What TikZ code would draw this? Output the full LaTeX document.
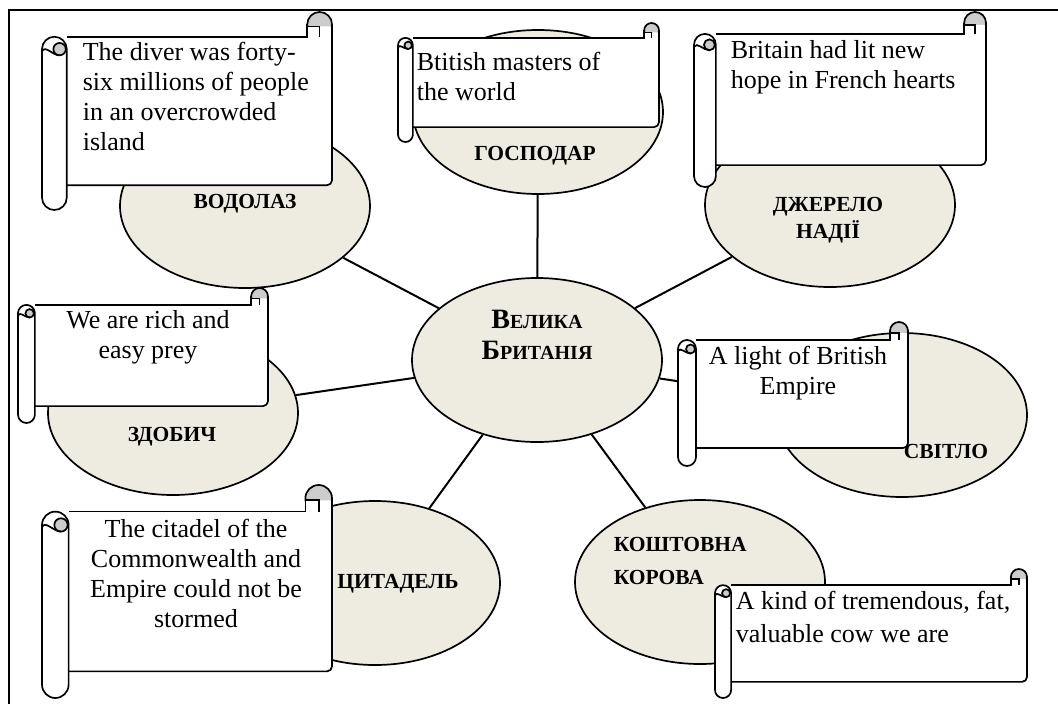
\documentclass[tikz,border=0pt]{standalone}
\usepackage{fontspec}
\setmainfont{Liberation Serif}
\usetikzlibrary{shapes.geometric}
\definecolor{ovalfill}{HTML}{EEECE1}
\definecolor{curl}{HTML}{CCCCCC}
\tikzset{
  oval/.style={ellipse, draw, fill=ovalfill, minimum width=250, minimum height=164, inner sep=0},
  link/.style={line width=2pt},
  note/.style={inner sep=0, font=\fontsize{26}{30}\selectfont},
  word/.style={inner sep=0, font=\fontsize{21.5}{27}\selectfont\bfseries}
}
\newcommand{\scrollshape}[4]{%
\begin{scope}[shift={(#1,#2)}]
\pgfmathsetmacro{\scrC}{#4/8}
\pgfmathsetmacro{\scrH}{#4/16}
\pgfmathsetmacro{\scrQ}{#4/32}
\filldraw[fill=curl] (#3-\scrH,\scrH) circle[radius=\scrH];
\fill[white] (\scrC,\scrC) -- (#3-\scrC,\scrC) -- (#3-\scrC,\scrH+2) -- (#3,\scrH+2) -- (#3,#4-\scrC) -- (\scrC,#4-\scrC) -- cycle;
\draw (#3-\scrC,\scrH) -- (#3-\scrC,\scrC) -- (\scrC,\scrC);
\draw[rounded corners=5pt] (#3,\scrH) -- (#3,#4-\scrC) -- (\scrC,#4-\scrC);
\draw (#3-\scrC,\scrH+2) -- (#3-\scrH,\scrH+2) -- (#3-\scrH,\scrC);
\filldraw[fill=white, rounded corners=\scrH pt] (0,\scrC) rectangle (\scrC,#4);
\filldraw[fill=curl] (\scrC-\scrQ-1,\scrC+\scrH) circle[radius=\scrQ];
\draw (\scrC-\scrQ-1,\scrC+\scrH+\scrQ) to[out=180,in=60] (0,\scrC+\scrH+2);
\end{scope}}
\begin{document}
\begin{tikzpicture}[x=1pt, y=-1pt, line width=1.7pt]
\useasboundingbox (0,0) rectangle (1058,704);
\draw[line width=2pt] (9,704) -- (9,10) -- (1058,10);

\node[oval] (gb) at (537,360){};
\node[oval] (vodolaz) at (245,206){};
\node[oval] (gospodar) at (538,112){};
\node[oval] (dzherelo) at (830,205){};
\node[oval] (zdobych) at (173,413){};
\node[oval] (svitlo) at (902,415){};
\node[oval] (tsytadel) at (375,583){};
\node[oval] (koshtovna) at (700,582){};
\draw[link] (gb) -- (vodolaz);
\draw[link] (gb) -- (gospodar);
\draw[link] (gb) -- (dzherelo);
\draw[link] (gb) -- (zdobych);
\draw[link] (gb) -- (svitlo);
\draw[link] (gb) -- (tsytadel);
\draw[link] (gb) -- (koshtovna);

\scrollshape{42}{12}{290}{198}
\scrollshape{398}{23}{261}{119}
\scrollshape{694}{12}{292}{175}
\scrollshape{18}{288}{250}{135}
\scrollshape{678}{322}{230}{144}
\scrollshape{42}{485}{290}{213}
\scrollshape{715}{569}{312}{129}

\node[note, anchor=north west, align=left] (diver) at (82,41) {The diver was forty-\\six millions of people\\in an overcrowded\\island};
\node[note, anchor=north west, align=left] (masters) at (416,51) {Btitish masters of\\the world};
\node[note, anchor=north west, align=left] (hope) at (730,40) {Britain had lit new\\hope in French hearts};
\node[note, anchor=north, align=center] (prey) at (148,310) {We are rich and\\easy prey};
\node[note, anchor=north, align=center] (light) at (798,345) {A light of British\\Empire};
\node[note, anchor=north, align=center] (citadel) at (196,518) {The citadel of the\\Commonwealth and\\Empire could not be\\stormed};
\node[note, anchor=north west, align=left, font=\fontsize{26}{33}\selectfont] (cow) at (735,590) {A kind of tremendous, fat,\\valuable cow we are};

\node[word, anchor=north, align=center, font=\fontsize{20}{31}\selectfont\bfseries] (gbt) at (537,309) {{\fontsize{28}{31}\selectfont В}ЕЛИКА\\{\fontsize{28}{31}\selectfont Б}РИТАНІЯ};
\node[word, anchor=north] (vodolazt) at (245,193) {ВОДОЛАЗ};
\node[word, anchor=north] (gospodart) at (535,145) {ГОСПОДАР};
\node[word, anchor=north, align=center] (dzherelot) at (828,196) {ДЖЕРЕЛО\\НАДІЇ};
\node[word, anchor=north] (zdobycht) at (172,426) {ЗДОБИЧ};
\node[word, anchor=north] (svitlot) at (946,443) {СВІТЛО};
\node[word, anchor=north] (tsytadelt) at (398,573) {ЦИТАДЕЛЬ};
\node[word, anchor=north west, align=left, font=\fontsize{21.5}{33}\selectfont\bfseries] (koshtovnat) at (613,536) {КОШТОВНА\\КОРОВА};
\end{tikzpicture}
\end{document}
